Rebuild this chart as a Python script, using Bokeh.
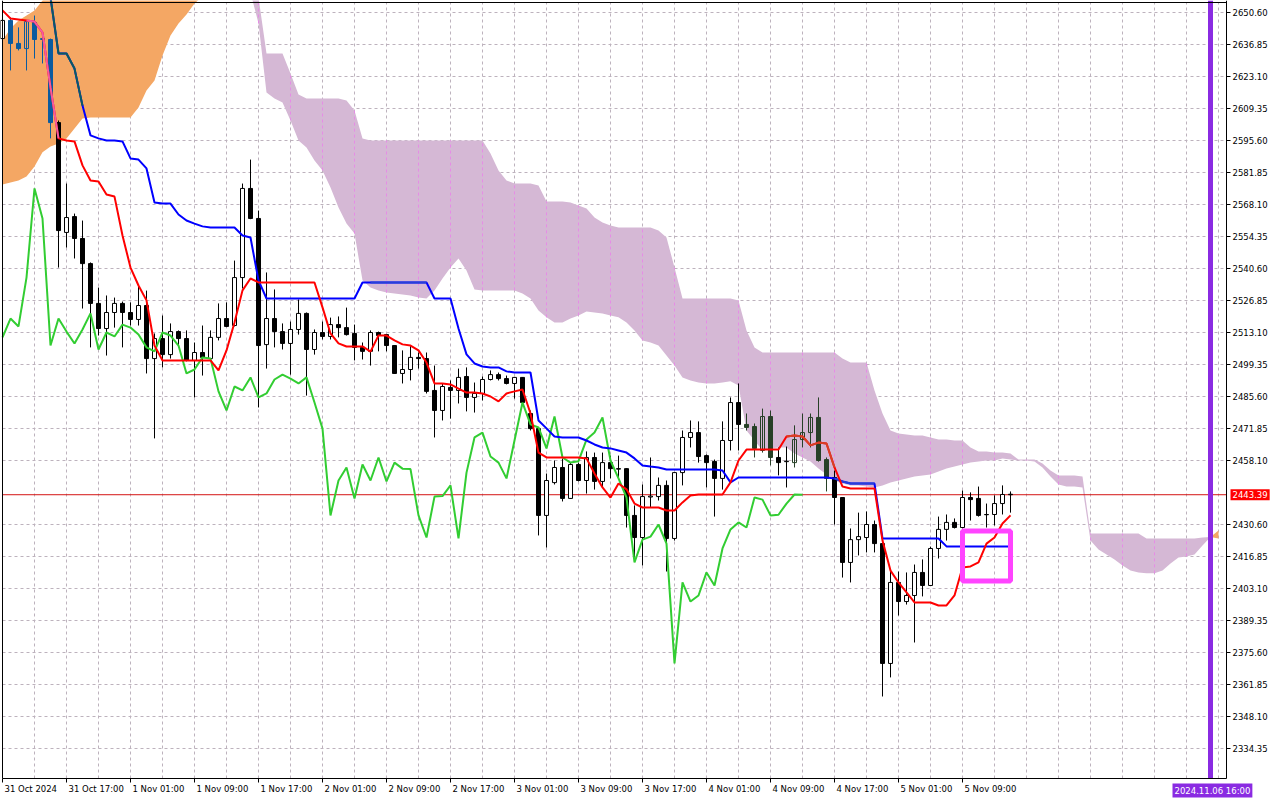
import numpy as np
from bokeh.plotting import figure
from bokeh.models import (Range1d, FixedTicker, BoxAnnotation, Label, LinearAxis,
                          ColumnDataSource, NumeralTickFormatter, CustomJSTickFormatter)
from bokeh.embed import file_html
from bokeh.resources import INLINE

nan = float("nan")

# ---------------- data (hourly bars, bar 0 = 31 Oct 2024 09:00) ----------------
time_labels = ["31 Oct 2024", "31 Oct 17:00", "1 Nov 01:00", "1 Nov 09:00", "1 Nov 17:00",
               "2 Nov 01:00", "2 Nov 09:00", "2 Nov 17:00", "3 Nov 01:00", "3 Nov 09:00",
               "3 Nov 17:00", "4 Nov 01:00", "4 Nov 09:00", "4 Nov 17:00", "5 Nov 01:00",
               "5 Nov 09:00"]
label_bars = [0, 8, 16, 24, 32, 40, 48, 56, 64, 72, 80, 88, 96, 104, 112, 120]

price_ticks = [2650.60, 2636.85, 2623.10, 2609.35, 2595.60, 2581.85, 2568.10, 2554.35,
               2540.60, 2526.85, 2513.10, 2499.35, 2485.60, 2471.85, 2458.10, 2430.60,
               2416.85, 2403.10, 2389.35, 2375.60, 2361.85, 2348.10, 2334.35]

opens = [2639.4, 2647.2, 2637.3, 2635.1, 2646.3, 2639.0, 2639.0, 2603.3, 2556.1, 2562.9,
         2553.5, 2542.7, 2525.6, 2514.8, 2521.7, 2525.6, 2521.7, 2518.7, 2524.7, 2501.9,
         2510.5, 2503.6, 2513.5, 2510.5, 2501.1, 2504.5, 2501.9, 2511.0, 2519.1, 2516.1,
         2536.7, 2575.0, 2562.1, 2507.9, 2519.1, 2513.5, 2508.4, 2514.4, 2521.3, 2505.8,
         2513.1, 2511.4, 2516.5, 2515.2, 2512.7, 2506.7, 2505.0, 2513.1, 2512.2, 2507.5,
         2495.5, 2497.2, 2502.4, 2501.9, 2488.2, 2479.6, 2489.5, 2488.2, 2494.2, 2485.2,
         2486.9, 2492.9, 2495.0, 2493.3, 2491.2, 2493.8, 2478.3, 2471.8, 2434.5, 2448.6,
         2455.1, 2441.8, 2456.4, 2449.5, 2459.4, 2449.1, 2457.2, 2454.6, 2454.6, 2434.5,
         2425.0, 2442.4, 2442.6, 2447.4, 2424.6, 2452.9, 2468.0, 2470.1, 2460.2, 2457.7,
         2450.4, 2466.7, 2483.0, 2473.6, 2472.7, 2462.4, 2477.0, 2459.4, 2457.6, 2457.2,
         2467.1, 2470.1, 2476.6, 2458.5, 2450.8, 2442.2, 2414.3, 2424.1, 2425.0, 2430.6,
         2422.4, 2370.9, 2405.7, 2397.5, 2400.1, 2410.0, 2404.4, 2420.3, 2428.5, 2431.5,
         2429.3, 2442.2, 2441.8, 2434.9, 2434.9, 2439.6, 2443.6]
highs = [2649.7, 2648.5, 2644.2, 2647.2, 2649.3, 2640.3, 2639.4, 2604.2, 2577.1, 2564.2,
         2561.2, 2543.2, 2532.4, 2529.0, 2528.1, 2526.4, 2526.0, 2533.3, 2531.1, 2512.7,
         2520.4, 2517.0, 2514.0, 2514.0, 2508.8, 2516.1, 2514.0, 2525.6, 2526.0, 2544.0,
         2577.1, 2587.4, 2565.5, 2538.9, 2531.6, 2517.0, 2517.8, 2527.3, 2521.7, 2514.4,
         2517.8, 2519.5, 2520.0, 2523.8, 2516.5, 2508.8, 2514.0, 2513.5, 2512.4, 2507.7,
         2505.4, 2507.5, 2504.5, 2504.5, 2498.9, 2491.2, 2492.5, 2497.6, 2498.1, 2491.6,
         2494.2, 2496.8, 2495.9, 2494.6, 2494.0, 2493.9, 2479.6, 2472.3, 2452.5, 2458.1,
         2458.9, 2457.2, 2457.2, 2462.0, 2461.5, 2461.5, 2460.2, 2460.2, 2454.8, 2438.8,
         2447.8, 2459.4, 2450.8, 2449.5, 2453.0, 2471.0, 2475.3, 2474.9, 2460.7, 2458.5,
         2474.9, 2485.2, 2491.2, 2478.3, 2474.0, 2480.4, 2479.6, 2463.7, 2464.1, 2473.2,
         2478.3, 2478.3, 2485.2, 2459.4, 2453.8, 2442.4, 2428.9, 2435.7, 2436.2, 2432.3,
         2424.6, 2410.4, 2410.4, 2410.0, 2413.4, 2415.6, 2421.1, 2434.0, 2434.9, 2433.2,
         2445.2, 2444.4, 2446.9, 2439.6, 2443.1, 2447.4, 2444.8]
lows = [2638.6, 2625.7, 2634.3, 2625.7, 2630.8, 2628.7, 2596.5, 2541.0, 2549.6, 2544.9,
        2523.4, 2506.7, 2511.8, 2503.2, 2515.2, 2506.7, 2516.1, 2516.1, 2495.5, 2467.6,
        2498.1, 2501.9, 2506.7, 2500.7, 2485.2, 2494.6, 2501.1, 2509.7, 2515.4, 2515.7,
        2532.0, 2561.8, 2480.9, 2497.6, 2506.7, 2505.8, 2495.0, 2512.2, 2486.0, 2503.6,
        2510.1, 2510.1, 2511.0, 2511.8, 2501.1, 2501.5, 2498.9, 2505.0, 2505.0, 2495.3,
        2491.2, 2492.5, 2497.6, 2486.9, 2468.0, 2475.3, 2476.1, 2482.6, 2479.2, 2478.7,
        2483.9, 2492.5, 2492.5, 2490.8, 2484.7, 2482.6, 2471.0, 2425.9, 2420.7, 2447.8,
        2440.5, 2441.6, 2449.1, 2443.9, 2445.6, 2446.5, 2450.4, 2450.8, 2429.3, 2416.4,
        2413.0, 2437.9, 2440.9, 2410.4, 2423.7, 2447.4, 2463.7, 2457.2, 2446.5, 2434.0,
        2445.6, 2462.4, 2462.4, 2471.0, 2459.4, 2461.5, 2456.0, 2451.7, 2446.5, 2455.1,
        2463.7, 2463.7, 2457.6, 2444.8, 2430.6, 2407.8, 2405.7, 2417.3, 2418.6, 2418.6,
        2356.7, 2364.9, 2391.5, 2396.2, 2379.9, 2399.7, 2404.2, 2416.0, 2423.7, 2428.9,
        2428.9, 2432.3, 2434.0, 2429.3, 2430.2, 2434.9, 2435.7]
closes = [2647.2, 2637.3, 2635.1, 2646.7, 2639.0, 2639.4, 2603.3, 2556.9, 2562.5, 2553.5,
          2542.7, 2525.6, 2514.8, 2521.7, 2525.6, 2521.7, 2518.7, 2524.7, 2501.9, 2510.5,
          2503.6, 2513.5, 2510.5, 2501.1, 2504.5, 2502.4, 2511.0, 2519.1, 2515.7, 2536.7,
          2575.0, 2562.1, 2507.5, 2519.1, 2513.5, 2508.4, 2514.4, 2521.3, 2505.8, 2513.1,
          2511.4, 2516.5, 2515.2, 2512.2, 2506.7, 2505.0, 2513.1, 2511.8, 2507.5, 2495.5,
          2497.2, 2502.4, 2501.9, 2487.8, 2479.6, 2489.9, 2488.2, 2493.8, 2485.2, 2486.9,
          2492.9, 2495.0, 2493.3, 2491.2, 2493.8, 2483.0, 2471.8, 2434.5, 2449.5, 2455.1,
          2441.8, 2456.4, 2449.5, 2459.4, 2449.1, 2457.2, 2454.6, 2454.4, 2434.5, 2425.0,
          2442.6, 2442.8, 2447.4, 2424.6, 2452.9, 2468.0, 2470.1, 2459.8, 2457.2, 2450.4,
          2466.7, 2483.0, 2473.6, 2472.3, 2463.3, 2477.0, 2459.4, 2457.2, 2457.8, 2467.1,
          2470.1, 2476.6, 2458.1, 2450.4, 2442.2, 2414.3, 2424.1, 2425.4, 2430.6, 2422.4,
          2370.9, 2405.7, 2397.5, 2400.1, 2410.0, 2404.4, 2420.3, 2428.5, 2431.5, 2429.3,
          2442.2, 2441.3, 2434.5, 2434.8, 2439.6, 2443.5, 2443.39]

tenkan = [2651.5, 2648.0, 2647.6, 2647.2, 2646.7, 2642.0, 2618.4, 2596.5, 2595.6, 2595.2,
          2584.9, 2578.4, 2578.0, 2572.4, 2571.5, 2554.8, 2541.0, 2533.3, 2526.9, 2507.5,
          2501.1, 2501.1, 2501.1, 2501.1, 2501.1, 2501.1, 2501.1, 2496.8, 2505.4, 2517.4,
          2531.2, 2536.3, 2534.6, 2534.6, 2534.6, 2534.6, 2534.6, 2534.6, 2534.6, 2534.6,
          2523.9, 2512.7, 2508.4, 2507.1, 2507.1, 2507.1, 2504.9, 2511.8, 2511.8, 2509.7,
          2508.0, 2507.5, 2505.4, 2500.2, 2491.2, 2491.2, 2490.8, 2489.0, 2487.3, 2487.3,
          2486.9, 2485.6, 2483.5, 2486.9, 2487.8, 2488.6, 2478.3, 2461.5, 2459.4, 2459.4,
          2459.4, 2459.4, 2459.4, 2459.0, 2452.5, 2446.5, 2442.2, 2448.2, 2445.7, 2439.6,
          2437.9, 2437.9, 2437.9, 2436.6, 2436.6, 2440.1, 2443.1, 2443.5, 2443.5, 2443.5,
          2443.5, 2448.7, 2458.1, 2462.8, 2462.8, 2462.8, 2462.8, 2462.8, 2468.4, 2468.8,
          2468.4, 2464.6, 2465.8, 2465.4, 2455.1, 2446.9, 2446.1, 2446.1, 2446.1, 2446.1,
          2423.7, 2410.8, 2405.7, 2401.4, 2397.1, 2397.1, 2397.1, 2395.8, 2395.8, 2400.1,
          2412.1, 2412.6, 2414.3, 2422.4, 2425.0, 2431.0, 2434.5]

kijun = [nan, nan, nan, nan, nan, nan, 2657.1, 2633.0, 2633.0, 2626.5,
         2610.6, 2597.8, 2596.5, 2595.6, 2595.6, 2595.2, 2587.9, 2587.4, 2583.6, 2569.0,
         2568.5, 2568.5, 2563.8, 2561.2, 2559.9, 2558.7, 2558.2, 2558.2, 2558.2, 2558.2,
         2554.8, 2553.9, 2535.5, 2527.7, 2527.7, 2527.7, 2527.7, 2527.7, 2527.7, 2527.7,
         2527.7, 2527.7, 2527.7, 2527.7, 2527.7, 2534.6, 2534.6, 2534.6, 2534.6, 2534.6,
         2534.6, 2534.6, 2534.6, 2534.6, 2527.7, 2527.7, 2527.7, 2514.8, 2503.7, 2499.8,
         2498.5, 2498.1, 2498.1, 2496.4, 2495.9, 2495.9, 2495.9, 2475.3, 2471.9, 2468.4,
         2468.0, 2468.0, 2468.0, 2466.7, 2465.0, 2463.7, 2463.3, 2462.4, 2461.5, 2459.0,
         2456.0, 2455.5, 2455.1, 2454.2, 2454.2, 2454.2, 2454.2, 2454.2, 2454.2, 2454.2,
         2453.8, 2448.7, 2450.8, 2450.8, 2450.8, 2450.8, 2450.8, 2450.8, 2450.8, 2450.8,
         2450.8, 2450.8, 2450.8, 2450.8, 2450.4, 2449.1, 2448.2, 2448.2, 2448.2, 2448.2,
         2424.6, 2424.6, 2424.6, 2424.6, 2424.6, 2424.6, 2424.6, 2424.6, 2421.2, 2421.2,
         2421.2, 2421.2, 2421.2, 2421.2, 2421.2, 2421.2, 2421.2]

# Senkou spans, bars 0..152 (26 bars ahead of the last candle)
senkou_a = [2638.6, 2643.7, 2647.2, 2649.3, 2651.5, 2655.8, 2657.9, 2657.9, 2657.9, 2657.9,
            2657.9, 2657.9, 2657.9, 2657.9, 2657.9, 2657.9, 2657.9, 2657.9, 2657.9, 2657.9,
            2657.9, 2657.9, 2657.9, 2657.9, 2657.9, 2657.9, nan, nan, nan, nan,
            nan, 2659.2, 2645.9, 2616.2, 2613.7, 2611.9, 2604.2, 2595.6, 2592.6, 2587.0,
            2582.7, 2575.4, 2566.8, 2559.9, 2555.6, 2535.5, 2532.4, 2531.2, 2530.3, 2529.9,
            2529.4, 2529.0, 2528.1, 2527.7, 2531.2, 2536.3, 2541.0, 2544.9, 2539.7, 2531.6,
            2531.2, 2531.2, 2531.2, 2531.2, 2531.2, 2529.9, 2527.7, 2522.6, 2519.6, 2517.4,
            2517.4, 2519.1, 2520.4, 2522.1, 2521.7, 2521.3, 2520.4, 2519.6, 2517.4, 2514.0,
            2509.7, 2508.8, 2507.5, 2503.2, 2498.9, 2493.8, 2492.5, 2491.6, 2491.2, 2491.2,
            2491.6, 2492.1, 2490.3, 2471.0, 2466.7, 2462.4, 2463.3, 2463.7, 2463.7, 2461.1,
            2459.4, 2457.7, 2454.7, 2452.1, 2449.5, 2448.2, 2447.4, 2447.4, 2446.9, 2446.5,
            2447.4, 2448.7, 2449.5, 2450.4, 2451.2, 2451.7, 2452.1, 2453.4, 2454.7, 2455.5,
            2456.4, 2457.2, 2457.7, 2458.1, 2458.1, 2459.0, 2458.5, 2458.1, 2458.1, 2457.7,
            2455.1, 2451.2, 2447.8, 2446.9, 2446.9, 2446.5, 2423.7, 2419.9, 2417.7, 2415.6,
            2413.0, 2410.8, 2410.0, 2409.6, 2409.6, 2410.8, 2413.8, 2416.4, 2416.9, 2417.7,
            2421.6, 2425.2, 2428.0]
senkou_b = [2576.7, 2577.6, 2578.4, 2580.1, 2584.4, 2590.5, 2593.0, 2594.3, 2596.5, 2600.8,
            2605.1, 2605.5, 2605.5, 2605.5, 2605.5, 2605.5, 2605.5, 2609.8, 2617.1, 2621.4,
            2632.1, 2640.7, 2645.9, 2649.7, 2654.5, 2657.5, nan, nan, nan, nan,
            nan, 2659.2, 2657.1, 2633.0, 2633.0, 2633.0, 2624.4, 2615.4, 2613.7, 2613.7,
            2613.7, 2613.7, 2613.7, 2612.8, 2608.5, 2596.5, 2595.6, 2595.6, 2595.6, 2595.6,
            2595.6, 2595.6, 2595.6, 2595.6, 2595.6, 2595.6, 2595.6, 2595.6, 2595.6, 2595.6,
            2595.6, 2590.0, 2582.7, 2578.4, 2577.1, 2577.1, 2577.1, 2576.3, 2569.4, 2569.4,
            2569.4, 2569.0, 2567.7, 2566.4, 2562.5, 2560.4, 2559.1, 2558.2, 2558.2, 2558.2,
            2558.2, 2558.2, 2556.9, 2553.9, 2541.0, 2527.7, 2527.7, 2527.7, 2527.7, 2527.7,
            2527.7, 2527.7, 2526.9, 2514.0, 2506.7, 2504.5, 2504.5, 2504.5, 2504.5, 2504.5,
            2504.5, 2504.5, 2504.5, 2504.5, 2504.5, 2501.9, 2500.2, 2500.2, 2500.2, 2488.2,
            2478.3, 2471.0, 2469.7, 2469.3, 2468.8, 2468.8, 2468.0, 2467.1, 2467.1, 2466.7,
            2466.7, 2463.7, 2462.0, 2462.0, 2461.5, 2461.5, 2461.1, 2458.5, 2458.5, 2458.5,
            2456.8, 2453.8, 2451.7, 2451.7, 2451.7, 2451.2, 2426.7, 2426.7, 2426.7, 2426.7,
            2426.7, 2426.7, 2426.7, 2424.6, 2424.6, 2424.6, 2424.6, 2424.6, 2424.6, 2424.6,
            2425.0, 2425.2, 2424.6]

current_price = 2443.39
future_bar = 151
future_label = "2024.11.06 16:00"
box_bars = [120, 126]
box_prices = [2406.3, 2427.8]
chikou_shift = 26

# ---------------- layout helpers (page pixels of the MetaTrader window) ----------------
W, H = 1280, 800
PLOT_L, PLOT_R, PLOT_T, PLOT_B = 2, 1226, 2, 778
def bar_at_px(px):
    return (px - 2) / 8.0
def price_at_px(py):
    return price_ticks[0] - (py - 12) * 13.75 / 32.0

FONT = "DejaVu Sans"
FS_PX = 8.5
FS = "8.5px"
ORANGE = "#F4A460"
THISTLE = "#D8BFD8"
ORANGE_SHOWN = "#F4A764"
THISTLE_SHOWN = "#D5B8D5"
GRID = "#BDB2BD"
GRID_IN_CLOUD = "#E68CE6"

o = np.array(opens); h = np.array(highs); l = np.array(lows); c = np.array(closes)
n = len(c)
bars = np.arange(n)
A = np.array(senkou_a); B = np.array(senkou_b)
cbars = np.arange(len(A))
valid = ~(np.isnan(A) | np.isnan(B))


def xor_hex(c1, c2):
    a = int(c1[1:], 16); b = int(c2[1:], 16)
    return "#%06X" % (a ^ b ^ 0xFFFFFF)


def zone(i, v):
    if i < 0 or i >= len(A) or not valid[i] or np.isnan(v):
        return 0
    lo, hi = min(A[i], B[i]), max(A[i], B[i])
    if lo <= v <= hi:
        return 1 if A[i] > B[i] else 2
    return 0

zone_base = {1: ORANGE, 2: THISTLE}

x_lo, x_hi = 0.0, bar_at_px(PLOT_R)
y_lo, y_hi = price_at_px(PLOT_B), price_at_px(PLOT_T)

p = figure(width=W, height=H,
           x_range=Range1d(bar_at_px(0), bar_at_px(W)),
           y_range=Range1d(price_at_px(H), price_at_px(0)),
           x_axis_location=None, y_axis_location=None,
           output_backend="svg", toolbar_location=None, min_border=0,
           background_fill_color="white", border_fill_color="white",
           outline_line_color=None)
p.grid.visible = False

# ---- axes (real Bokeh axes, pinned at the chart's right and bottom edges) ----
yax = LinearAxis(fixed_location=x_hi, bounds=(y_lo, price_at_px(0)),
                 ticker=FixedTicker(ticks=price_ticks),
                 formatter=NumeralTickFormatter(format="0.00"))
yax.major_tick_out = 4
yax.major_tick_in = 0
yax.minor_tick_line_color = None
yax.axis_line_color = "black"
yax.major_tick_line_color = "black"
yax.major_label_text_font = FONT
yax.major_label_text_font_size = FS
yax.major_label_text_color = "black"
yax.major_label_standoff = 2
p.add_layout(yax, "right")

CHAR_W = {" ": 0.318, ":": 0.337, ".": 0.318, "O": 0.787, "c": 0.55, "t": 0.392,
          "N": 0.748, "o": 0.612, "v": 0.592}
def text_w(s):
    return sum(0.636 if ch.isdigit() else CHAR_W.get(ch, 0.6) for ch in s) * FS_PX

# MetaTrader draws time labels starting at their tick -> centre each label half a width right
label_pos = [b + (text_w(t) / 2.0 + 2) / 8.0 for b, t in zip(label_bars, time_labels)]
xax = LinearAxis(fixed_location=y_lo, bounds=(x_lo, x_hi),
                 ticker=FixedTicker(ticks=label_pos, minor_ticks=label_bars),
                 formatter=CustomJSTickFormatter(
                     args=dict(pos=label_pos, labs=time_labels),
                     code="for (let k = 0; k < pos.length; k++) {"
                          " if (Math.abs(pos[k] - tick) < 1e-6) return labs[k]; }"
                          " return '';"))
xax.major_tick_line_color = None
xax.major_tick_out = 0
xax.major_tick_in = 0
xax.minor_tick_out = 4
xax.minor_tick_in = 0
xax.minor_tick_line_color = "black"
xax.axis_line_color = "black"
xax.major_label_text_font = FONT
xax.major_label_text_font_size = FS
xax.major_label_text_color = "black"
xax.major_label_standoff = 1
p.add_layout(xax, "below")

# ---- grid (dashed, limited to the chart area) ----
gx = list(range(4, 153, 4))
p.segment(x0=gx, y0=[y_lo] * len(gx), x1=gx, y1=[y_hi] * len(gx),
          line_color=GRID, line_dash="3 3", line_width=1)
p.segment(x0=[x_lo] * len(price_ticks), y0=price_ticks, x1=[x_hi] * len(price_ticks),
          y1=price_ticks, line_color=GRID, line_dash="3 3", line_width=1)

# ---- Ichimoku cloud ----
for mask, col in (((A >= B) & valid, ORANGE_SHOWN), ((B >= A) & valid, THISTLE_SHOWN)):
    idx = np.where(mask)[0]
    if len(idx) == 0:
        continue
    runs = np.split(idx, np.where(np.diff(idx) != 1)[0] + 1)
    for r in runs:
        if len(r) >= 2:
            p.varea(x=cbars[r], y1=A[r], y2=B[r], fill_color=col, fill_alpha=1.0)

# vertical grid lines seen through the (xor-drawn) thistle cloud turn magenta
gin = [g for g in gx if g < len(A) and valid[g] and B[g] > A[g]]
p.segment(x0=gin, y0=[min(A[g], B[g]) for g in gin], x1=gin,
          y1=[min(max(A[g], B[g]), y_hi) for g in gin],
          line_color=GRID_IN_CLOUD, line_dash="3 3", line_width=1)

# ---- current price line ----
p.segment(x0=[x_lo], y0=[current_price], x1=[x_hi], y1=[current_price],
          line_color="#D41414", line_width=1)

# ---- candles ----
bull = c >= o
zones = [zone(i, (o[i] + c[i]) / 2.0) for i in range(n)]
line_col = [xor_hex("#000000", zone_base[z]) if z else "#000000" for z in zones]
fill_col, fill_alpha = [], []
for i in range(n):
    if bull[i]:
        fill_col.append("#FFFFFF")
        fill_alpha.append(0.0 if zones[i] else 1.0)
    else:
        fill_col.append(line_col[i])
        fill_alpha.append(1.0)
src = ColumnDataSource(dict(x=bars, h=h, l=l,
                            top=np.maximum(o, c), bottom=np.minimum(o, c),
                            lc=line_col, fc=fill_col, fa=fill_alpha))
p.segment(x0="x", y0="l", x1="x", y1="h", line_color="lc", line_width=1, source=src)
p.vbar(x="x", width=0.5, top="top", bottom="bottom", fill_color="fc", fill_alpha="fa",
       line_color="lc", line_width=1, source=src)


def draw_line(xs, ys, color):
    xs = np.asarray(xs); ys = np.asarray(ys, dtype=float)
    p.line(xs, ys, line_color=color, line_width=2)
    for z in (1, 2):
        m = np.array([zone(int(x), y) == z for x, y in zip(xs, ys)])
        if m.sum() >= 2:
            p.line(xs, np.where(m, ys, np.nan), line_color=xor_hex(color, zone_base[z]),
                   line_width=2)

chikou = c[chikou_shift:]
draw_line(np.arange(len(chikou)), chikou, "#32CD32")
draw_line(bars, kijun, "#0000FF")
draw_line(bars, tenkan, "#FF0000")

# ---- user rectangle ----
p.add_layout(BoxAnnotation(left=box_bars[0], right=box_bars[1], bottom=box_prices[0],
                           top=box_prices[1], fill_alpha=0, line_color="#FF44FF",
                           line_width=5, line_alpha=1))

# ---- future time line ----
p.segment(x0=[future_bar], y0=[y_lo], x1=[future_bar], y1=[price_at_px(0)],
          line_color="#8A2BE2", line_width=5)

# ---- chart frame (left / top edges) ----
p.segment(x0=[x_lo, x_lo], y0=[y_lo, y_hi], x1=[x_lo, x_hi], y1=[price_at_px(0), y_hi],
          line_color="black", line_width=1)

# ---- price tag and time tag ----
p.add_layout(Label(x=bar_at_px(1230), y=current_price, text="%.2f" % current_price,
                   text_align="left", text_baseline="middle", text_font=FONT,
                   text_font_size=FS, text_color="white",
                   background_fill_color="#FF0000", background_fill_alpha=1.0, padding=2))
p.add_layout(Label(x=bar_at_px(1172), y=price_at_px(790), text=future_label,
                   text_align="left", text_baseline="middle", text_font=FONT,
                   text_font_size=FS, text_color="white", background_fill_color="#8A2BE2",
                   background_fill_alpha=1.0, padding=2))

open("out.html", "w").write(file_html(p, INLINE))
